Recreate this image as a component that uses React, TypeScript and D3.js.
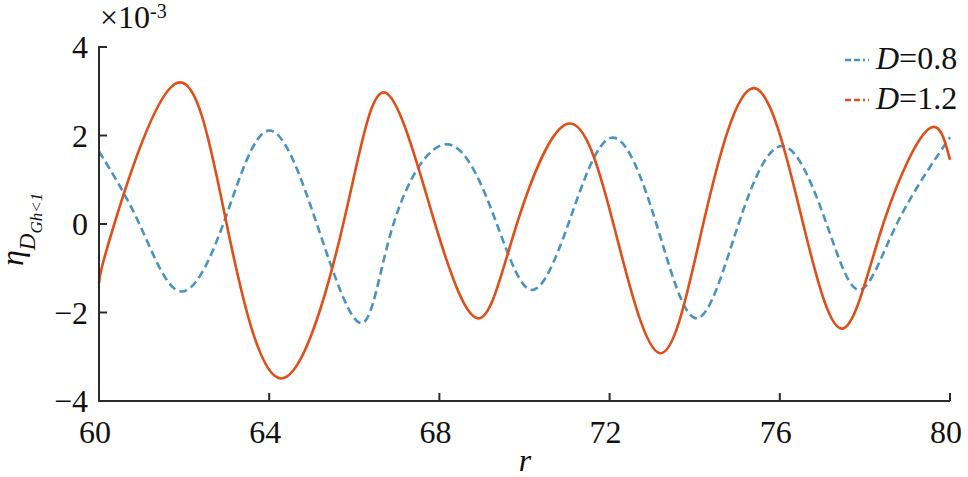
import React from 'react';
import * as d3 from 'd3';

// values in units of 1e-3 (extrema and zero crossings)
const rD08 = [60, 60.95, 61.9, 62.92, 63.98, 65.12, 66.17, 66.92, 68.21, 69.35, 70.17, 71.03, 72.05, 73.1, 74.05, 75.03, 76.08, 77.1, 77.88, 78.75, 80];
const etaD08 = [1.64, 0, -1.52, 0, 2.11, 0, -2.24, 0, 1.8, 0, -1.49, 0, 1.95, 0, -2.13, 0, 1.76, 0, -1.49, 0, 1.96];

const rD12 = [60, 60.36, 61.84, 63.0, 64.29, 65.74, 66.72, 67.9, 68.94, 69.82, 71.04, 72.09, 73.18, 74.2, 75.4, 76.55, 77.49, 78.43, 79.49, 80];
const etaD12 = [-1.34, 0, 3.19, 0, -3.49, 0, 2.97, 0, -2.13, 0, 2.27, 0, -2.92, 0, 3.07, 0, -2.36, 0, 2.14, 1.45];

const xTicks = [60, 64, 68, 72, 76, 80];
const yTicks = [-4, -2, 0, 2, 4];
const seriesLabels = ['0.8', '1.2'];
const colors = ['#4a93bd', '#e04e1a'];

const FONT = 'Liberation Serif';
const INK = '#111';
const AXIS = '#2b2b2b';

export default function App() {
  const x = d3.scaleLinear().domain([60, 80]).range([99, 950]);
  const y = d3.scaleLinear().domain([-4, 4]).range([401, 47]);

  const line = d3
    .line<[number, number]>()
    .x((d) => x(d[0]))
    .y((d) => y(d[1]))
    .curve(d3.curveNatural);

  const blue: [number, number][] = rD08.map((r, i) => [r, etaD08[i]]);
  const orange: [number, number][] = rD12.map((r, i) => [r, etaD12[i]]);

  return (
    <svg
      width={968}
      height={477}
      style={{ position: 'absolute', left: 0, top: 0, background: '#fff' }}
    >
      <path d={line(blue) || ''} fill="none" stroke={colors[0]} strokeWidth={2.6} strokeDasharray="8,4.5" />
      <path d={line(orange) || ''} fill="none" stroke={colors[1]} strokeWidth={2.6} />

      {/* axes with inward ticks */}
      <g stroke={AXIS} strokeWidth={2} fill="none">
        <path d={`M${x(60) + 8},${y(4)}H${x(60)}V${y(-4)}H${x(80)}`} />
        {xTicks.map((t) => (
          <line key={'xt' + t} x1={x(t)} x2={x(t)} y1={y(-4)} y2={y(-4) - 8} />
        ))}
        {yTicks.map((t) => (
          <line key={'yt' + t} x1={x(60)} x2={x(60) + 8} y1={y(t)} y2={y(t)} />
        ))}
      </g>

      {xTicks.map((t) => (
        <text key={'xl' + t} x={x(t) - 4} y={443} textAnchor="middle" fontFamily={FONT} fontSize={32} fill={INK}>
          {t}
        </text>
      ))}
      {yTicks.map((t) => (
        <text key={'yl' + t} x={88} y={y(t) + 11} textAnchor="end" fontFamily={FONT} fontSize={32} fill={INK}>
          {t < 0 ? '\u2212' + Math.abs(t) : t}
        </text>
      ))}

      {/* exponent */}
      <text x={100} y={28} fontFamily={FONT} fontSize={32} fill={INK}>
        {'\u00d710'}
        <tspan dy={-10} fontSize={20}>-3</tspan>
      </text>

      {/* x label */}
      <text x={525} y={471} textAnchor="middle" fontFamily={FONT} fontSize={32} fontStyle="italic" fill={INK}>
        r
      </text>

      {/* y label */}
      <text transform="translate(23,266) rotate(-90)" fontFamily={FONT} fontStyle="italic" fill={INK}>
        <tspan fontSize={32}>{'\u03b7'}</tspan>
        <tspan dy={12} fontSize={23}>D</tspan>
        <tspan dy={7} fontSize={17}>{'Gh<1'}</tspan>
      </text>

      {/* legend */}
      {seriesLabels.map((lab, i) => {
        const ly = 60 + i * 40;
        return (
          <g key={lab}>
            <line x1={845} x2={869} y1={ly} y2={ly} stroke={colors[i]} strokeWidth={2.6} strokeDasharray="6,3,6,3,2,3" />
            <text x={876} y={ly + 9} fontFamily={FONT} fontSize={32} fill={INK}>
              <tspan fontStyle="italic">D</tspan>
              {'=' + lab}
            </text>
          </g>
        );
      })}
    </svg>
  );
}
